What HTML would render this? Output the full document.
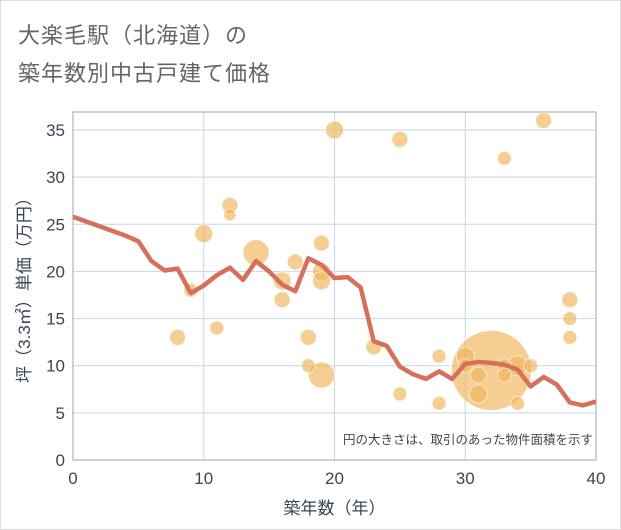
<!DOCTYPE html>
<html><head><meta charset="utf-8"><style>
body{margin:0;background:#fff;}
#wrap{position:relative;width:619px;height:528px;border:1px solid #ddd;background:#fff;font-family:"Liberation Sans","Noto Sans CJK JP",sans-serif;}
.title{position:absolute;left:17px;font-size:22px;color:#666;letter-spacing:1px;}
</style></head><body>
<div id="wrap">
<div class="title" style="top:17px">大楽毛駅（北海道）の</div>
<div class="title" style="top:55px">築年数別中古戸建て価格</div>
<svg id="chart" width="621" height="530" style="position:absolute;left:-1px;top:-1px"></svg>
</div>
<script>
const lineX=[0,1,2,3,4,5,6,7,8,9,10,11,12,13,14,15,16,17,18,19,20,21,22,23,24,25,26,27,28,29,30,31,32,33,34,35,36,37,38,39,40];
const lineY=[25.8,25.3,24.8,24.3,23.8,23.2,21.1,20.1,20.3,17.7,18.5,19.6,20.4,19.1,21.1,20.0,18.6,17.9,21.4,20.7,19.3,19.4,18.3,12.6,12.1,9.9,9.1,8.6,9.4,8.6,10.2,10.4,10.3,10.1,9.6,7.8,8.8,8.0,6.1,5.8,6.2];
const bubX=[8,9,10,11,12,12,14,16,16,17,18,18,19,19,19,19,20,23,25,25,28,28,30,30,31,31,32,33,33,33,34,34,35,36,38,38,38];
const bubY=[13,18,24,14,27,26,22,19,17,21,13,10,23,20,19,9,35,12,34,7,11,6,11,10,9,7,9.5,32,10,9,10,6,10,36,17,15,13];
const bubR=[8,7,9,7,8,6,13,9,8,8,8,7,8,9,9,13,9,8,8,7,7,7,9,7,8,9,40,7,7,7,10,7,7,8,8,7,7];
const xTicks=[0,10,20,30,40];
const yTicks=[0,5,10,15,20,25,30,35];
const NS="http://www.w3.org/2000/svg";
const svg=document.getElementById('chart');
const L=73,R=596,T=112,B=460;
const TXT='#3a4656';
const sx=v=>L+(v-0)*(R-L)/40;
const sy=v=>B-v*(B-130)/35;
function mk(tag,attrs,parent){const e=document.createElementNS(NS,tag);for(const k in attrs)e.setAttribute(k,attrs[k]);(parent||svg).appendChild(e);return e;}
mk('rect',{x:L,y:T,width:R-L,height:B-T,fill:'#fff',stroke:'#aab4c0'});
for(const t of xTicks){
  const g=mk('line',{x1:sx(t),x2:sx(t),y1:T,y2:B,stroke:'#c8d6e6'});
  
  
  const tx=mk('text',{x:sx(t),y:B+24,'text-anchor':'middle','font-size':17,fill:TXT});
  tx.textContent=t;
  
  
}
for(const t of yTicks){
  const g=mk('line',{x1:L,x2:R,y1:sy(t),y2:sy(t),stroke:'#c8d6e6'});
  
  
  const tx=mk('text',{x:L-8,y:sy(t)+6,'text-anchor':'end','font-size':17,fill:TXT});
  tx.textContent=t;
  
  
}
mk('rect',{x:L,y:T,width:R-L,height:B-T,fill:'none',stroke:'#9aa6b4'});
const order=bubX.map((_,i)=>i).sort((a,b)=>bubR[b]-bubR[a]);
for(const i of order){
  const c=mk('circle',{cx:sx(bubX[i]),cy:sy(bubY[i]),r:bubR[i],fill:'rgba(240,180,90,0.65)',stroke:'rgba(255,255,255,0.6)','stroke-width':1});
  
  
}
const p=mk('polyline',{points:lineX.map((x,i)=>sx(x)+','+sy(lineY[i])).join(' '),fill:'none',stroke:'#d7705a','stroke-width':4.5,'stroke-linejoin':'round'});


const n=mk('text',{x:R-3,y:444,'text-anchor':'end','font-size':12.5,fill:'#444','font-family':'"Liberation Sans","Noto Sans CJK JP",sans-serif'});
n.textContent='円の大きさは、取引のあった物件面積を示す';


const xt=mk('text',{x:(L+R)/2,y:514,'text-anchor':'middle','font-size':17,fill:TXT,'font-family':'"Liberation Sans","Noto Sans CJK JP",sans-serif'});
xt.textContent='築年数（年）';


const yt=mk('text',{x:0,y:0,'text-anchor':'middle','font-size':17,fill:TXT,transform:'translate(30,'+((T+B)/2)+') rotate(-90)','font-family':'"Liberation Sans","Noto Sans CJK JP",sans-serif'});
yt.textContent='坪（3.3㎡）単価（万円）';


</script>
</body></html>
